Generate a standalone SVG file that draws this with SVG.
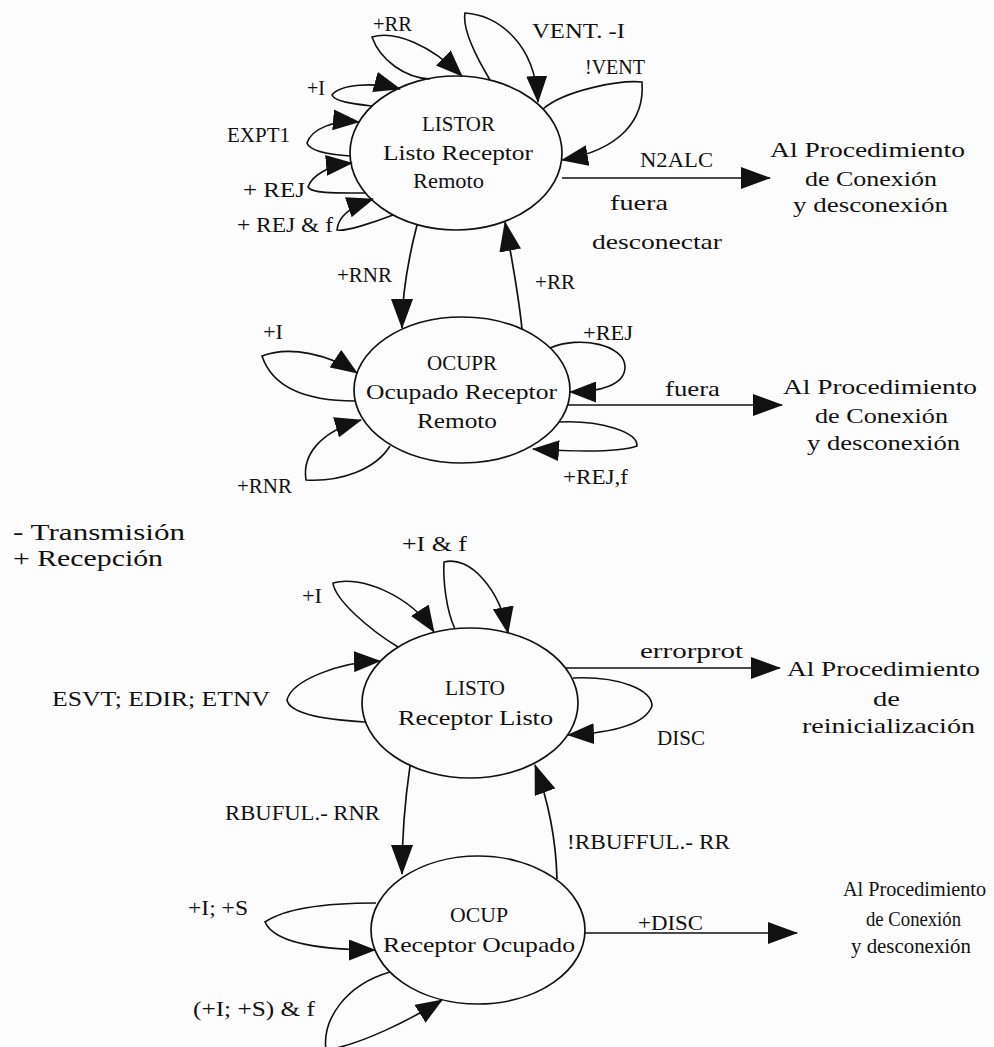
<svg xmlns="http://www.w3.org/2000/svg" width="994" height="1047" viewBox="0 0 994 1047">
  <style>
    .bg { fill: #fcfcfc; }
    .state { fill: none; stroke: #111; stroke-width: 1.7; }
    .edge { fill: none; stroke: #111; stroke-width: 1.7; marker-end: url(#head); }
    .loop { fill: none; stroke: #111; stroke-width: 1.6; marker-end: url(#loophead); }
    text { font-family: "Liberation Serif", "Times New Roman", serif; font-size: 22px; fill: #111; }
    .legend { font-size: 24px; }
    .narrow { font-size: 20px; }
  </style>
  <defs>
    <marker id="head" viewBox="0 0 30 22" refX="29" refY="11" markerWidth="30" markerHeight="22" markerUnits="userSpaceOnUse" orient="auto">
      <path d="M0,0 L30,11 L0,22 Z" fill="#111"/>
    </marker>
    <marker id="loophead" viewBox="0 0 27 21" refX="26" refY="10.5" markerWidth="27" markerHeight="21" markerUnits="userSpaceOnUse" orient="auto">
      <path d="M0,0 L27,10.5 L0,21 Z" fill="#111"/>
    </marker>
  </defs>

  <rect class="bg" x="0" y="0" width="994" height="1047"/>

  <!-- transitions -->
  <g id="connectors">
    <!-- LISTOR self loops -->
    <path class="loop" d="M430,79 C405,78 380,60 372,37 C395,30 430,45 462,76"/>
    <path class="loop" d="M372,106 C355,104 335,102 332,95 C340,84 375,82 400,89"/>
    <path class="loop" d="M351,156 C335,155 310,152 307,143 C312,128 335,120 359,122"/>
    <path class="loop" d="M365,193 C340,193 312,194 308,187 C312,175 330,165 352,163"/>
    <path class="loop" d="M393,215 C375,222 345,232 337,230 C338,215 355,205 373,199"/>
    <path class="loop" d="M490,80 C478,60 462,30 465,13 C495,15 535,40 538,102"/>
    <path class="loop" d="M543,109 C565,90 620,80 642,82 C645,120 620,150 562,160"/>
    <path class="edge" d="M562,178 L770,178"/>
    <!-- LISTOR <-> OCUPR -->
    <path class="edge" d="M417,225 C408,260 402,295 402,328"/>
    <path class="edge" d="M522,329 C518,290 512,260 505,222"/>
    <!-- OCUPR self loops -->
    <path class="loop" d="M355,401 C320,401 275,395 262,356 C290,345 330,355 357,373"/>
    <path class="loop" d="M390,446 C375,470 340,482 306,480 C302,455 320,432 361,420"/>
    <path class="loop" d="M550,348 C580,335 625,345 625,367 C625,385 600,392 570,392"/>
    <path class="edge" d="M568,405 L782,405"/>
    <path class="loop" d="M559,422 C600,420 638,432 637,446 C620,452 580,452 533,449"/>
    <!-- LISTO self loops -->
    <path class="loop" d="M455,629 C446,610 443,580 444,562 C470,555 500,590 508,633"/>
    <path class="loop" d="M398,647 C370,630 335,600 333,583 C360,575 410,595 434,632"/>
    <path class="loop" d="M365,722 C330,720 290,715 287,700 C292,680 340,662 380,661"/>
    <path class="edge" d="M566,668 L780,668"/>
    <path class="loop" d="M573,678 C620,676 652,690 652,706 C645,725 610,733 568,735"/>
    <!-- LISTO <-> OCUP -->
    <path class="edge" d="M410,766 C405,800 402,840 402,874"/>
    <path class="edge" d="M557,879 C556,840 548,800 535,765"/>
    <!-- OCUP self loops -->
    <path class="loop" d="M376,903 C340,903 290,905 265,922 C275,945 330,950 375,950"/>
    <path class="loop" d="M390,972 C345,985 322,1020 326,1050 C360,1045 410,1020 442,1000"/>
    <path class="edge" d="M585,933 L797,933"/>
  </g>

  <!-- transition labels -->
  <g id="labels">
    <text x="373" y="31" textLength="39" lengthAdjust="spacingAndGlyphs">+RR</text>
    <text x="307" y="95" textLength="18" lengthAdjust="spacingAndGlyphs">+I</text>
    <text x="227" y="142" textLength="63" lengthAdjust="spacingAndGlyphs">EXPT1</text>
    <text x="243" y="197" textLength="62" lengthAdjust="spacingAndGlyphs">+ REJ</text>
    <text x="237" y="232" textLength="96" lengthAdjust="spacingAndGlyphs">+ REJ &amp; f</text>
    <text x="532" y="38" textLength="93" lengthAdjust="spacingAndGlyphs">VENT. -I</text>
    <text x="585" y="74" textLength="60" lengthAdjust="spacingAndGlyphs">!VENT</text>
    <text x="640" y="167" textLength="73" lengthAdjust="spacingAndGlyphs">N2ALC</text>
    <text x="610" y="210" textLength="58" lengthAdjust="spacingAndGlyphs">fuera</text>
    <text x="592" y="249" textLength="130" lengthAdjust="spacingAndGlyphs">desconectar</text>
    <text x="337" y="282" textLength="55" lengthAdjust="spacingAndGlyphs">+RNR</text>
    <text x="535" y="289" textLength="40" lengthAdjust="spacingAndGlyphs">+RR</text>
    <text x="263" y="339" textLength="20" lengthAdjust="spacingAndGlyphs">+I</text>
    <text x="583" y="340" textLength="50" lengthAdjust="spacingAndGlyphs">+REJ</text>
    <text x="665" y="396" textLength="55" lengthAdjust="spacingAndGlyphs">fuera</text>
    <text x="563" y="484" textLength="65" lengthAdjust="spacingAndGlyphs">+REJ,f</text>
    <text x="237" y="493" textLength="55" lengthAdjust="spacingAndGlyphs">+RNR</text>
    <text x="402" y="551" textLength="65" lengthAdjust="spacingAndGlyphs">+I &amp; f</text>
    <text x="302" y="603" textLength="20" lengthAdjust="spacingAndGlyphs">+I</text>
    <text x="52" y="706" textLength="218" lengthAdjust="spacingAndGlyphs">ESVT; EDIR; ETNV</text>
    <text x="640" y="658" textLength="103" lengthAdjust="spacingAndGlyphs">errorprot</text>
    <text x="657" y="745" textLength="48" lengthAdjust="spacingAndGlyphs">DISC</text>
    <text x="225" y="820" textLength="155" lengthAdjust="spacingAndGlyphs">RBUFUL.- RNR</text>
    <text x="567" y="849" textLength="163" lengthAdjust="spacingAndGlyphs">!RBUFFUL.- RR</text>
    <text x="188" y="915" textLength="60" lengthAdjust="spacingAndGlyphs">+I; +S</text>
    <text x="193" y="1016" textLength="122" lengthAdjust="spacingAndGlyphs">(+I; +S) &amp; f</text>
    <text x="638" y="930" textLength="65" lengthAdjust="spacingAndGlyphs">+DISC</text>
  </g>

  <!-- legend -->
  <g id="legend">
    <text class="legend" x="13" y="540" textLength="172" lengthAdjust="spacingAndGlyphs">- Transmisión</text>
    <text class="legend" x="13" y="566" textLength="150" lengthAdjust="spacingAndGlyphs">+ Recepción</text>
  </g>

  <!-- states -->
  <g id="node-listor">
    <ellipse class="state" cx="456" cy="153" rx="106" ry="77"/>
    <text x="422" y="131" textLength="73" lengthAdjust="spacingAndGlyphs">LISTOR</text>
    <text x="383" y="160" textLength="150" lengthAdjust="spacingAndGlyphs">Listo Receptor</text>
    <text x="413" y="188" textLength="71" lengthAdjust="spacingAndGlyphs">Remoto</text>
  </g>
  <g id="node-ocupr">
    <ellipse class="state" cx="462" cy="390" rx="108" ry="73"/>
    <text x="427" y="370" textLength="70" lengthAdjust="spacingAndGlyphs">OCUPR</text>
    <text x="366" y="399" textLength="191" lengthAdjust="spacingAndGlyphs">Ocupado Receptor</text>
    <text x="417" y="428" textLength="80" lengthAdjust="spacingAndGlyphs">Remoto</text>
  </g>
  <g id="node-listo">
    <ellipse class="state" cx="470" cy="703" rx="108" ry="75"/>
    <text x="445" y="695" textLength="60" lengthAdjust="spacingAndGlyphs">LISTO</text>
    <text x="398" y="725" textLength="155" lengthAdjust="spacingAndGlyphs">Receptor Listo</text>
  </g>
  <g id="node-ocup">
    <ellipse class="state" cx="478" cy="930" rx="107" ry="74"/>
    <text x="450" y="922" textLength="58" lengthAdjust="spacingAndGlyphs">OCUP</text>
    <text x="383" y="952" textLength="192" lengthAdjust="spacingAndGlyphs">Receptor Ocupado</text>
  </g>

  <!-- outgoing procedures -->
  <g id="proc-conexion-1">
    <text x="770" y="157" textLength="195" lengthAdjust="spacingAndGlyphs">Al Procedimiento</text>
    <text x="805" y="186" textLength="132" lengthAdjust="spacingAndGlyphs">de Conexión</text>
    <text x="793" y="212" textLength="155" lengthAdjust="spacingAndGlyphs">y desconexión</text>
  </g>
  <g id="proc-conexion-2">
    <text x="783" y="394" textLength="194" lengthAdjust="spacingAndGlyphs">Al Procedimiento</text>
    <text x="815" y="423" textLength="133" lengthAdjust="spacingAndGlyphs">de Conexión</text>
    <text x="807" y="450" textLength="153" lengthAdjust="spacingAndGlyphs">y desconexión</text>
  </g>
  <g id="proc-reinicializacion">
    <text x="787" y="676" textLength="193" lengthAdjust="spacingAndGlyphs">Al Procedimiento</text>
    <text x="873" y="706" textLength="27" lengthAdjust="spacingAndGlyphs">de</text>
    <text x="802" y="733" textLength="173" lengthAdjust="spacingAndGlyphs">reinicialización</text>
  </g>
  <g id="proc-conexion-3">
    <text class="narrow" x="843" y="896" textLength="143" lengthAdjust="spacingAndGlyphs">Al Procedimiento</text>
    <text class="narrow" x="866" y="926" textLength="95" lengthAdjust="spacingAndGlyphs">de Conexión</text>
    <text class="narrow" x="851" y="953" textLength="120" lengthAdjust="spacingAndGlyphs">y desconexión</text>
  </g>
</svg>
